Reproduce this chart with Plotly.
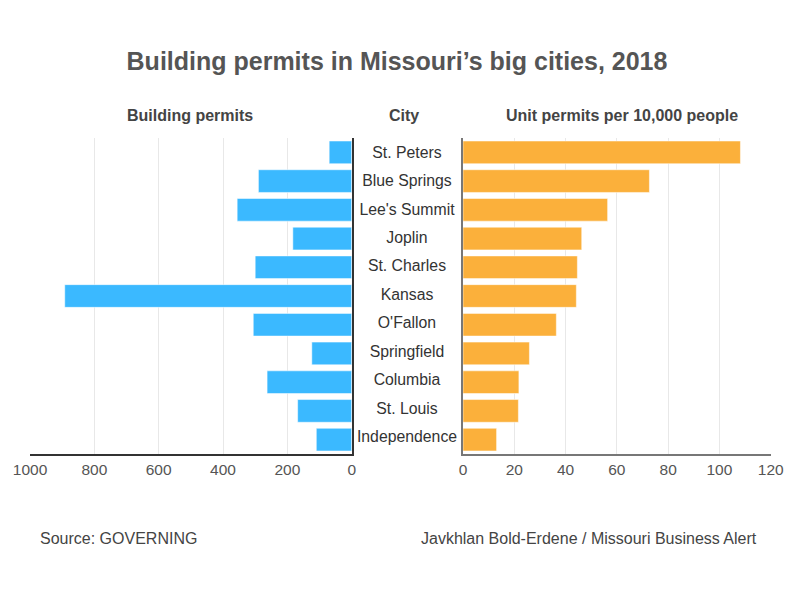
import plotly.graph_objects as go

cities = ["St. Peters", "Blue Springs", "Lee's Summit", "Joplin", "St. Charles", "Kansas",
          "O'Fallon", "Springfield", "Columbia", "St. Louis", "Independence"]
building_permits = [70, 290, 356, 183, 300, 892, 306, 124, 263, 168, 110]
unit_permits_per_10k = [108.2, 72.7, 56.4, 46.3, 44.6, 44.2, 36.4, 25.9, 21.8, 21.6, 13.1]

left_ticks = [1000, 800, 600, 400, 200, 0]
right_ticks = [0, 20, 40, 60, 80, 100, 120]

FONT = "Liberation Sans, Arial, sans-serif"
BLUE = "#3bb9ff"
ORANGE = "#fbb03b"

fig = go.Figure()
fig.add_trace(go.Bar(
    x=building_permits, y=cities, orientation="h", xaxis="x", yaxis="y",
    marker=dict(color=BLUE, line=dict(color="rgba(255,255,255,0.5)", width=1)),
    width=0.79, hoverinfo="x+y", showlegend=False))
fig.add_trace(go.Bar(
    x=unit_permits_per_10k, y=cities, orientation="h", xaxis="x2", yaxis="y2",
    marker=dict(color=ORANGE, line=dict(color="rgba(255,255,255,0.5)", width=1)),
    width=0.79, hoverinfo="x+y", showlegend=False))
fig.add_trace(go.Scatter(
    x=[0] * len(cities), y=cities, mode="text", text=cities, xaxis="x3", yaxis="y3",
    textfont=dict(family=FONT, size=15.8, color="#333"), hoverinfo="skip", showlegend=False,
    cliponaxis=False))

ydom = [(601 - 454) / 601, (601 - 138) / 601]
yax = dict(domain=ydom, autorange="reversed", showticklabels=False, showgrid=False,
           zeroline=False, ticks="")

fig.update_layout(
    width=800, height=601,
    margin=dict(l=0, r=0, t=0, b=0, autoexpand=False),
    paper_bgcolor="white", plot_bgcolor="white",
    font=dict(family=FONT, color="#555"),
    bargap=0.21,
    title=dict(text="<b>Building permits in Missouri’s big cities, 2018</b>",
               x=397 / 800, xanchor="center", y=(601 - 61) / 601, yanchor="middle",
               font=dict(family=FONT, size=25, color="#555"), automargin=False),
    xaxis=dict(domain=[30 / 800, 351.7 / 800], range=[1000, 0], tickvals=left_ticks,
               showgrid=True, gridcolor="#e8e8e8", gridwidth=1, zeroline=False,
               showline=True, linecolor="#333", linewidth=2, ticks="", automargin=False,
               tickfont=dict(family=FONT, size=15.5, color="#555"), anchor="y"),
    yaxis=dict(anchor="x", side="right", showline=True, linecolor="#333", linewidth=1.5,
               automargin=False, **yax),
    xaxis2=dict(domain=[463 / 800, 770.7 / 800], range=[0, 120], tickvals=right_ticks,
                showgrid=True, gridcolor="#e8e8e8", gridwidth=1, zeroline=False,
                showline=True, linecolor="#777", linewidth=2, ticks="", automargin=False,
                tickfont=dict(family=FONT, size=15.5, color="#555"), anchor="y2"),
    yaxis2=dict(anchor="x2", side="left", showline=True, linecolor="#777", linewidth=2,
                automargin=False, **yax),
    xaxis3=dict(domain=[352 / 800, 462 / 800], range=[-1, 1], visible=False, anchor="y3"),
    yaxis3=dict(anchor="x3", visible=False, domain=ydom, autorange="reversed"),
    annotations=[
        dict(text="<b>Building permits</b>", xref="paper", yref="paper",
             x=190 / 800, y=(601 - 115) / 601, xanchor="center", yanchor="middle",
             showarrow=False, font=dict(family=FONT, size=16, color="#444")),
        dict(text="<b>City</b>", xref="paper", yref="paper",
             x=404 / 800, y=(601 - 115) / 601, xanchor="center", yanchor="middle",
             showarrow=False, font=dict(family=FONT, size=16, color="#444")),
        dict(text="<b>Unit permits per 10,000 people</b>", xref="paper", yref="paper",
             x=622 / 800, y=(601 - 115) / 601, xanchor="center", yanchor="middle",
             showarrow=False, font=dict(family=FONT, size=16, color="#444")),
        dict(text="Source: GOVERNING", xref="paper", yref="paper",
             x=38 / 800, y=(601 - 538) / 601, xanchor="left", yanchor="middle",
             showarrow=False, font=dict(family=FONT, size=16, color="#444")),
        dict(text="Javkhlan Bold-Erdene / Missouri Business Alert", xref="paper", yref="paper",
             x=759 / 800, y=(601 - 538) / 601, xanchor="right", yanchor="middle",
             showarrow=False, font=dict(family=FONT, size=16, color="#444")),
    ],
)

fig.write_html("out.html")
